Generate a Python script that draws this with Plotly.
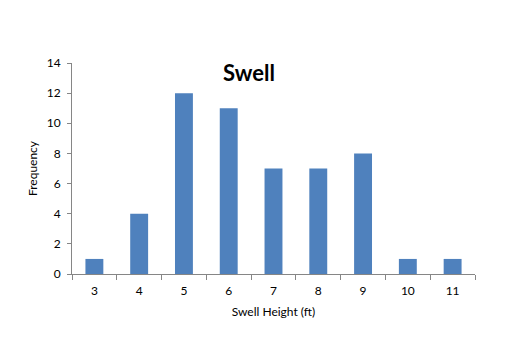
import plotly.graph_objects as go

heights = ["3", "4", "5", "6", "7", "8", "9", "10", "11"]
frequency = [1, 4, 12, 11, 7, 7, 8, 1, 1]

FONT = "Lato, 'Open Sans', sans-serif"

fig = go.Figure(go.Bar(x=heights, y=frequency, marker_color="#4F81BD",
                       marker_line_width=0))

fig.update_layout(
    width=511, height=355,
    margin=dict(l=72, r=36, t=63, b=81, autoexpand=False),
    paper_bgcolor="white", plot_bgcolor="white",
    bargap=0.6,
    showlegend=False,
    font=dict(family=FONT, size=11, color="#000000"),
    title=dict(text="<b>Swell</b>", x=249/511, xanchor="center",
               y=1-73/355, yanchor="middle", xref="container", yref="container",
               font=dict(family=FONT, size=22, color="#000000")),
)
fig.update_xaxes(
    type="category", tickson="boundaries", ticks="outside", ticklen=5,
    tickcolor="#868686", showline=True, linecolor="#868686", linewidth=1,
    showgrid=False, zeroline=False,
    tickfont=dict(size=12), ticklabelstandoff=6,
    title=dict(text="Swell Height (ft)", font=dict(size=12), standoff=10),
)
fig.update_yaxes(
    range=[0, 14], dtick=2, ticks="outside", ticklen=4,
    tickcolor="#868686", showline=True, linecolor="#868686", linewidth=1,
    showgrid=False, zeroline=False,
    tickfont=dict(size=12), ticklabelstandoff=4,
    title=dict(text="Frequency", font=dict(size=12), standoff=6),
)

fig.write_html("out.html")
